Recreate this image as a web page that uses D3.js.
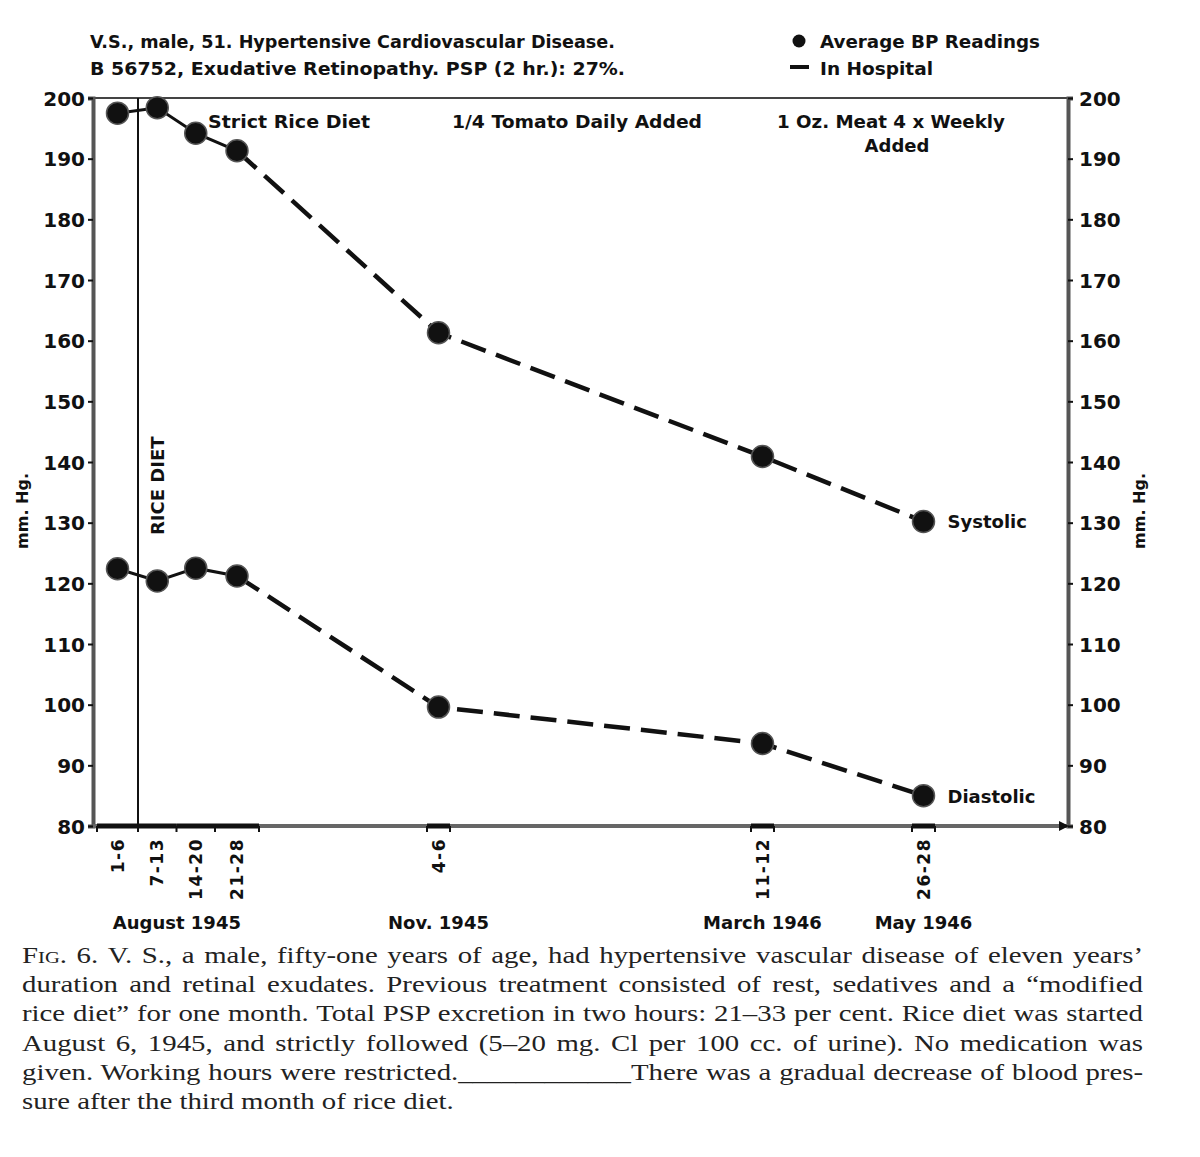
<!DOCTYPE html>
<html>
<head>
<meta charset="utf-8">
<script src="https://cdn.jsdelivr.net/npm/d3@7"></script>
<style>
body{margin:0;background:#fff}
.sans{font-family:"DejaVu Sans",Lato,sans-serif;font-weight:700;fill:#111}
.serif{font-family:"Liberation Serif","DejaVu Serif",serif;fill:#222}
</style>
</head>
<body>
<svg width="1200" height="1157"></svg>
<script>
// readings, one per period
var periodLabels = ['1-6','7-13','14-20','21-28','4-6','11-12','26-28']
var periodStart = ['1945-08-01','1945-08-07','1945-08-14','1945-08-21','1945-11-04','1946-03-11','1946-05-26']
var periodEnd   = ['1945-08-06','1945-08-13','1945-08-20','1945-08-28','1945-11-06','1946-03-12','1946-05-28']
var periodMonth = [0,0,0,0,1,2,3]
var monthLabels = ['August 1945','Nov. 1945','March 1946','May 1946']
var systolic  = [197.5,198.4,194.2,191.3,161.3,140.9,130.2]
var diastolic = [122.4,120.4,122.5,121.2,99.6,93.6,85.0]
var yTicks = [80,90,100,110,120,130,140,150,160,170,180,190,200]
var riceDietStart = '1945-08-07'

var caption = [
  'V. S., a male, fifty-one years of age, had hypertensive vascular disease of eleven years\u2019',
  'duration and retinal exudates. Previous treatment consisted of rest, sedatives and a \u201cmodified',
  'rice diet\u201d for one month. Total PSP excretion in two hours: 21\u201333 per cent. Rice diet was started',
  'August 6, 1945, and strictly followed (5\u201320 mg. Cl per 100 cc. of urine). No medication was',
  'given. Working hours were restricted.____________There was a gradual decrease of blood pres-',
  'sure after the third month of rice diet.'
]

var parse = d3.timeParse('%Y-%m-%d')
var starts = periodStart.map(parse)
var ends = periodEnd.map(function(d){return d3.timeDay.offset(parse(d),1)})
var mids = starts.map(function(d,i){return new Date((+d + +ends[i])/2)})

var margins = {left:93, right:1068, top:98, bottom:826}

// the paper stretches the hospital weeks, so the time axis is piecewise
var xScale = d3.scaleTime()
  .domain([starts[0],starts[1],ends[3],starts[4],ends[4],starts[5],ends[5],starts[6],ends[6],parse('1946-07-15')])
  .range([97,138,259,427,450,751,774,912,935,margins.right])

var yScale = d3.scaleLinear()
  .domain([80,200])
  .range([margins.bottom, margins.top])

var svg = d3.select('svg')

var label = function(t,x,y,size,anchor,width){
  var el = svg.append('text').attr('class','sans')
    .attr('x',x).attr('y',y)
    .attr('font-size',size+'px')
    .attr('text-anchor',anchor||'start')
    .text(t)
  if (width){el.attr('textLength',width).attr('lengthAdjust','spacingAndGlyphs')}
  return el
}

// header
label('V.S., male, 51. Hypertensive Cardiovascular Disease.',90,48,17,'start',525)
label('B 56752, Exudative Retinopathy. PSP (2 hr.): 27%.',90,75,17,'start',535)

// legend
svg.append('circle').attr('cx',799).attr('cy',41).attr('r',6.5).attr('fill','#111')
svg.append('line').attr('x1',790).attr('x2',809).attr('y1',67).attr('y2',67)
  .attr('stroke','#111').attr('stroke-width',4)
label('Average BP Readings',820,48,17,'start',220)
label('In Hospital',820,75,17,'start',113)

// frame
svg.append('line').attr('x1',margins.left).attr('x2',margins.right)
  .attr('y1',margins.top).attr('y2',margins.top)
  .attr('stroke','#444').attr('stroke-width',2)
svg.append('line').attr('x1',xScale(parse(riceDietStart))).attr('x2',xScale(parse(riceDietStart)))
  .attr('y1',margins.top).attr('y2',margins.bottom)
  .attr('stroke','#111').attr('stroke-width',2)

var leftAxis = svg.append('g')
  .attr('transform','translate('+margins.left+',0)')
  .call(d3.axisLeft(yScale).tickValues(yTicks).tickSize(5).tickPadding(3))
var rightAxis = svg.append('g')
  .attr('transform','translate('+margins.right+',0)')
  .call(d3.axisRight(yScale).tickValues(yTicks).tickSize(5).tickPadding(6))
;[leftAxis,rightAxis].forEach(function(a){
  a.select('.domain').attr('stroke','#555').attr('stroke-width',4)
  a.selectAll('.tick line').attr('stroke','#111').attr('stroke-width',2)
  a.selectAll('.tick text').attr('class','sans').attr('font-size','20px').attr('dy','0.36em')
})

// bottom axis with hospital stays
svg.append('line').attr('x1',margins.left).attr('x2',margins.right)
  .attr('y1',margins.bottom).attr('y2',margins.bottom)
  .attr('stroke','#666').attr('stroke-width',4)
svg.selectAll('.stay')
  .data(starts)
  .enter()
  .append('line')
  .attr('class','stay')
  .attr('x1',function(d){return xScale(d)})
  .attr('x2',function(d,i){return xScale(ends[i])})
  .attr('y1',margins.bottom).attr('y2',margins.bottom)
  .attr('stroke','#111').attr('stroke-width',5)
var bounds = d3.sort(Array.from(new Set(starts.concat(ends).map(function(d){return +d}))))
svg.selectAll('.btick')
  .data(bounds)
  .enter()
  .append('line')
  .attr('x1',function(d){return xScale(d)})
  .attr('x2',function(d){return xScale(d)})
  .attr('y1',margins.bottom).attr('y2',margins.bottom+6)
  .attr('stroke','#111').attr('stroke-width',2)
svg.append('path')
  .attr('d','M'+(margins.right-9)+','+(margins.bottom-5)+'L'+(margins.right+1)+','+margins.bottom+'L'+(margins.right-9)+','+(margins.bottom+5)+'Z')
  .attr('fill','#111')

svg.selectAll('.plabel')
  .data(periodLabels)
  .enter()
  .append('text')
  .attr('class','sans')
  .attr('font-size','17px')
  .attr('letter-spacing','1.5px')
  .attr('text-anchor','end')
  .attr('transform',function(d,i){return 'translate('+(xScale(mids[i])+6)+','+(margins.bottom+12)+') rotate(-90)'})
  .text(function(d){return d})

svg.selectAll('.mlabel')
  .data(monthLabels)
  .enter()
  .append('text')
  .attr('class','sans')
  .attr('font-size','18px')
  .attr('text-anchor','middle')
  .attr('x',function(d,m){
    return d3.mean(mids.filter(function(x,i){return periodMonth[i]==m}),function(x){return xScale(x)})
  })
  .attr('y',929)
  .text(function(d){return d})

// axis titles
;[28,1145].forEach(function(x){
  svg.append('text').attr('class','sans').attr('font-size','16px')
    .attr('text-anchor','middle')
    .attr('transform','translate('+x+',511) rotate(-90)')
    .text('mm. Hg.')
})

// annotations
svg.append('text').attr('class','sans').attr('font-size','18px')
  .attr('text-anchor','start')
  .attr('transform','translate('+(xScale(parse(riceDietStart))+26)+',535) rotate(-90)')
  .text('RICE DIET')
label('Strict Rice Diet',208,128,18,'start',162)
label('1/4 Tomato Daily Added',577,128,18,'middle',250)
label('1 Oz. Meat 4 x Weekly',891,128,18,'middle',228)
label('Added',897,152,18,'middle')

// series
var series = [{name:'Systolic', values:systolic},{name:'Diastolic', values:diastolic}]
var line = d3.line()
  .x(function(d){return xScale(d.date)})
  .y(function(d){return yScale(d.v)})

series.forEach(function(s){
  var pts = s.values.map(function(v,i){return {v:v, date:mids[i]}})
  svg.append('path').datum(pts.slice(0,4))
    .attr('d',line).attr('fill','none').attr('stroke','#111').attr('stroke-width',3)
  svg.append('path').datum(pts.slice(3))
    .attr('d',line).attr('fill','none').attr('stroke','#111').attr('stroke-width',4.5)
    .attr('stroke-dasharray','26,11')
  svg.selectAll('.dot'+s.name)
    .data(pts)
    .enter()
    .append('circle')
    .attr('cx',function(d){return xScale(d.date)})
    .attr('cy',function(d){return yScale(d.v)})
    .attr('r',11)
    .attr('fill','#111')
    .attr('stroke','#555')
    .attr('stroke-width',1.5)
  var last = pts[pts.length-1]
  label(s.name,xScale(last.date)+24,yScale(last.v)+7,18)
})

// caption, widened serif and justified with word spacing like the printed page
var stretch = 1.2
var capWidth = 1121/stretch
var cap = svg.append('g').attr('transform','translate(22,0) scale('+stretch+',1)')
caption.forEach(function(t,i){
  var txt = cap.append('text').attr('class','serif')
    .attr('x',0).attr('y',963+i*29.2)
    .attr('font-size','24px')
  if (i==0){
    txt.append('tspan').attr('font-variant','small-caps').text('Fig. 6. ')
  }
  txt.append('tspan').text(t)
  if (i<caption.length-1){
    var w = txt.node().getComputedTextLength()
    var spaces = (t.match(/ /g)||[]).length + (i==0?2:0)
    txt.attr('word-spacing',((capWidth-w)/spaces)+'px')
  }
})
</script>
</body>
</html>
